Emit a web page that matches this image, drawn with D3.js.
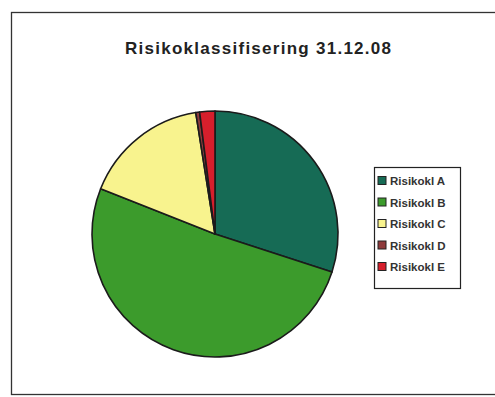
<!DOCTYPE html>
<html lang="no">
<head>
<meta charset="UTF-8">
<title>Risikoklassifisering</title>
<script src="https://d3js.org/d3.v7.min.js"></script>
<style>
    body{ margin:0; background:#fff; }
    .title{ font-family:"Liberation Sans", Arial, sans-serif; font-weight:bold; font-size:17px; fill:#222; text-anchor:middle; }
    .legend text{ font-family:"Liberation Sans", Arial, sans-serif; font-weight:bold; font-size:11.5px; fill:#333; }
</style>
</head>
<body>
<svg id="chart" width="495" height="397"></svg>
<script>
    // data (share in %)
    let categories = ["Risikokl A", "Risikokl B", "Risikokl C", "Risikokl D", "Risikokl E"];
    let values = [30, 51, 16.5, 0.5, 2];
    let colors = ["#166b55", "#3c9b2c", "#f8f38e", "#8e3a3c", "#d61f2c"];

    let svg = d3.select("#chart");

    // outer frame
    svg.append("rect")
        .attr("x", 11.5).attr("y", 12.5)
        .attr("width", 500).attr("height", 382)
        .attr("fill", "none").attr("stroke", "#333").attr("stroke-width", 1.3);

    svg.append("text")
        .attr("class", "title")
        .attr("x", 258).attr("y", 54)
        .attr("textLength", 266)
        .attr("lengthAdjust", "spacing")
        .text("Risikoklassifisering 31.12.08");

    // pie
    let pie = d3.pie().sort(null).value(d => d)
    let arc = d3.arc().innerRadius(0).outerRadius(123)
    let g = svg.append("g").attr("transform", "translate(215,234)")
    g.selectAll("path")
        .data(pie(values))
        .enter()
        .append("path")
        .attr("d", arc)
        .attr("fill", (d, i) => colors[i])
        .attr("stroke", "#1b1b1b")
        .attr("stroke-width", 1.6)
        .attr("stroke-linejoin", "round");

    // legend
    let y = d3.scalePoint().domain(categories).range([181, 267]);
    let legend = svg.append("g").attr("class", "legend");
    legend.append("rect")
        .attr("x", 374.5).attr("y", 167.5)
        .attr("width", 86).attr("height", 121)
        .attr("fill", "#fff").attr("stroke", "#222").attr("stroke-width", 1.2);
    let item = legend.selectAll("g.item")
        .data(categories)
        .enter()
        .append("g")
        .attr("class", "item")
        .attr("transform", d => "translate(378," + y(d) + ")");
    item.append("rect")
        .attr("x", 0).attr("y", -4.5)
        .attr("width", 8).attr("height", 8)
        .attr("fill", (d, i) => colors[i])
        .attr("stroke", "#222").attr("stroke-width", 1);
    item.append("text")
        .attr("x", 12).attr("y", 4)
        .text(d => d);
</script>
</body>
</html>
